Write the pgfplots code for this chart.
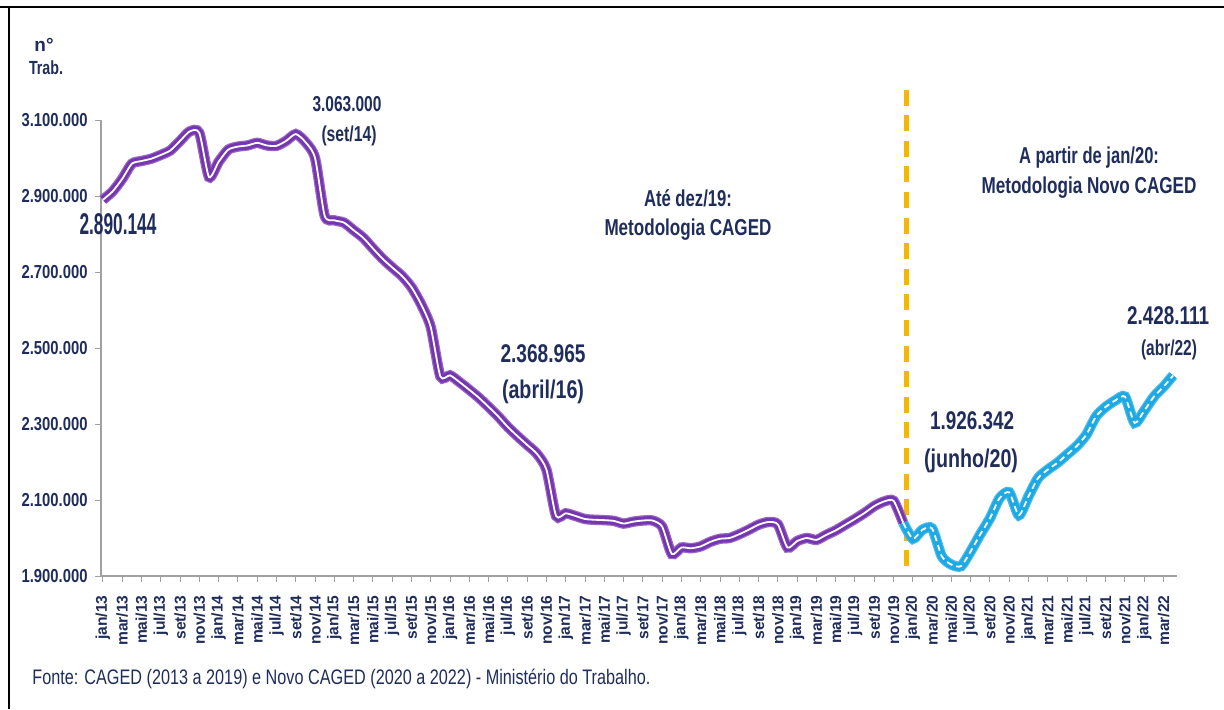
\documentclass[border=0pt]{standalone}
\usepackage{pgfplots}
\pgfplotsset{compat=1.18}
\usepackage{pgfplotstable}
\usepackage{fontspec}
\usepackage{graphicx}
\setmainfont{Liberation Sans}
\definecolor{navy}{HTML}{1F2D5C}
\definecolor{purp}{HTML}{7636B0}
\definecolor{cyanb}{HTML}{1CA9E4}
\definecolor{gold}{HTML}{F5B700}
\definecolor{axgray}{HTML}{A0A0A0}
\newcommand\fitw[2]{\resizebox{#1}{\height}{#2}}
\newcommand\fs[1]{\fontsize{#1}{#1}\selectfont}

\pgfplotstableread{
i v
0 2890
1 2912
2 2945
3 2985
4 2992
5 2998
6 3008
7 3020
8 3045
9 3070
10 3066
11 2950
12 2990
13 3022
14 3030
15 3033
16 3040
17 3033
18 3032
19 3045
20 3063
21 3042
22 3000
23 2848
24 2836
25 2830
26 2810
27 2790
28 2762
29 2735
30 2712
31 2690
32 2660
33 2615
34 2555
35 2425
36 2428
37 2410
38 2390
39 2369
40 2345
41 2320
42 2292
43 2268
44 2245
45 2222
46 2180
47 2058
48 2065
49 2058
50 2050
51 2048
52 2047
53 2045
54 2038
55 2043
56 2046
57 2046
58 2030
59 1958
60 1975
61 1973
62 1978
63 1990
64 1998
65 2000
66 2010
67 2022
68 2035
69 2042
70 2036
71 1975
72 1992
73 2000
74 1995
75 2008
76 2020
77 2035
78 2050
79 2066
80 2084
81 2096
82 2098
83 2040
}\cagedold

\pgfplotstableread{
i v
83 2040
84 1998
85 2022
86 2025
87 1952
88 1930
89 1926
90 1965
91 2010
92 2052
93 2105
94 2120
95 2060
96 2110
97 2158
98 2180
99 2198
100 2220
101 2242
102 2272
103 2320
104 2345
105 2362
106 2372
107 2303
108 2335
109 2372
110 2398
111 2428
}\cagednew

\begin{document}
\begin{tikzpicture}
\path[use as bounding box] (0,0) rectangle (612pt,354.5pt);
\begin{axis}[
  at={(50.5pt,66.5pt)}, anchor=south west,
  scale only axis, width=538pt, height=228pt,
  xmin=-0.2, xmax=111.4, ymin=1900, ymax=3100,
  axis lines*=left,
  axis line style={axgray, line width=0.6pt},
  tick align=outside, major tick length=3pt,
  tick style={axgray, line width=0.5pt},
  xtick={0,2,...,110},
  xticklabels={jan/13,mar/13,mai/13,jul/13,set/13,nov/13,
    jan/14,mar/14,mai/14,jul/14,set/14,nov/14,
    jan/15,mar/15,mai/15,jul/15,set/15,nov/15,
    jan/16,mar/16,mai/16,jul/16,set/16,nov/16,
    jan/17,mar/17,mai/17,jul/17,set/17,nov/17,
    jan/18,mar/18,mai/18,jul/18,set/18,nov/18,
    jan/19,mar/19,mai/19,jul/19,set/19,nov/19,
    jan/20,mar/20,mai/20,jul/20,set/20,nov/20,
    jan/21,mar/21,mai/21,jul/21,set/21,nov/21,
    jan/22,mar/22},
  xticklabel shift=6.5pt,
  xticklabel style={rotate=90, anchor=east, inner sep=0pt, text=navy,
    font=\fs{7.8pt}\bfseries},
  ytick={1900,2100,2300,2500,2700,2900,3100},
  yticklabels={\fitw{33pt}{1.900.000},\fitw{33pt}{2.100.000},\fitw{33pt}{2.300.000},
    \fitw{33pt}{2.500.000},\fitw{33pt}{2.700.000},\fitw{33pt}{2.900.000},\fitw{33pt}{3.100.000}},
  yticklabel shift=3.5pt,
  yticklabel style={anchor=east, inner sep=0pt, text=navy, font=\fs{9.4pt}\bfseries},
  clip=false,
]
\draw[gold, line width=2.5pt, dash pattern=on 8pt off 4.8pt] (axis cs:83.35,3180) -- (axis cs:83.35,1900);
\addplot[purp!75, line width=5.2pt, smooth, tension=0.4] table[x=i,y=v]{\cagedold};
\addplot[purp, line width=4pt, smooth, tension=0.4] table[x=i,y=v]{\cagedold};
\addplot[white, line width=0.9pt, smooth, tension=0.4] table[x=i,y=v]{\cagedold};
\addplot[cyanb!80, line width=5.2pt, smooth, tension=0.4] table[x=i,y=v]{\cagednew};
\addplot[cyanb, line width=4pt, smooth, tension=0.4] table[x=i,y=v]{\cagednew};
\addplot[white, line width=0.9pt, dash pattern=on 3pt off 2pt, smooth, tension=0.4] table[x=i,y=v]{\cagednew};
\end{axis}
\begin{scope}[x=0.5pt, y=-0.5pt, shift={(0pt,354.5pt)}]
\draw[black, line width=1.4pt] (0,7) -- (1224,7);
\draw[black, line width=1.3pt] (9,7) -- (9,709);
\begin{scope}[every node/.style={inner sep=0pt, text=navy}]
\node[font=\fs{9.5pt}\bfseries] at (44,45) {n°};
\node[font=\fs{9.5pt}\bfseries] at (46,68) {\fitw{17pt}{Trab.}};
\node[font=\fs{10.8pt}\bfseries] at (347,104) {\fitw{34.5pt}{3.063.000}};
\node[font=\fs{10.8pt}\bfseries] at (349,136) {\fitw{27.5pt}{(set/14)}};
\node[font=\fs{15pt}\bfseries] at (118,224) {\fitw{38.5pt}{2.890.144}};
\node[font=\fs{12.8pt}\bfseries] at (543,354) {\fitw{42.5pt}{2.368.965}};
\node[font=\fs{12.8pt}\bfseries] at (543,392) {\fitw{41pt}{(abril/16)}};
\node[font=\fs{12.8pt}\bfseries] at (972,421) {\fitw{42pt}{1.926.342}};
\node[font=\fs{12.8pt}\bfseries] at (971,461) {\fitw{47pt}{(junho/20)}};
\node[font=\fs{12.8pt}\bfseries] at (1168,316) {\fitw{41pt}{2.428.111}};
\node[font=\fs{10.8pt}\bfseries] at (1169,350) {\fitw{28pt}{(abr/22)}};
\node[font=\fs{11.5pt}\bfseries] at (688,198) {\fitw{44pt}{Até dez/19:}};
\node[font=\fs{11.5pt}\bfseries] at (688,230) {\fitw{83.5pt}{Metodologia CAGED}};
\node[font=\fs{11.5pt}\bfseries] at (1089,158) {\fitw{70pt}{A partir de jan/20:}};
\node[font=\fs{11.5pt}\bfseries] at (1089,188) {\fitw{107.5pt}{Metodologia Novo CAGED}};
\node[font=\fs{10.5pt}, anchor=west] at (32,679) {\fitw{309pt}{Fonte: CAGED (2013 a 2019) e Novo CAGED (2020 a 2022) - Ministério do Trabalho.}};
\end{scope}
\end{scope}
\end{tikzpicture}
\end{document}
